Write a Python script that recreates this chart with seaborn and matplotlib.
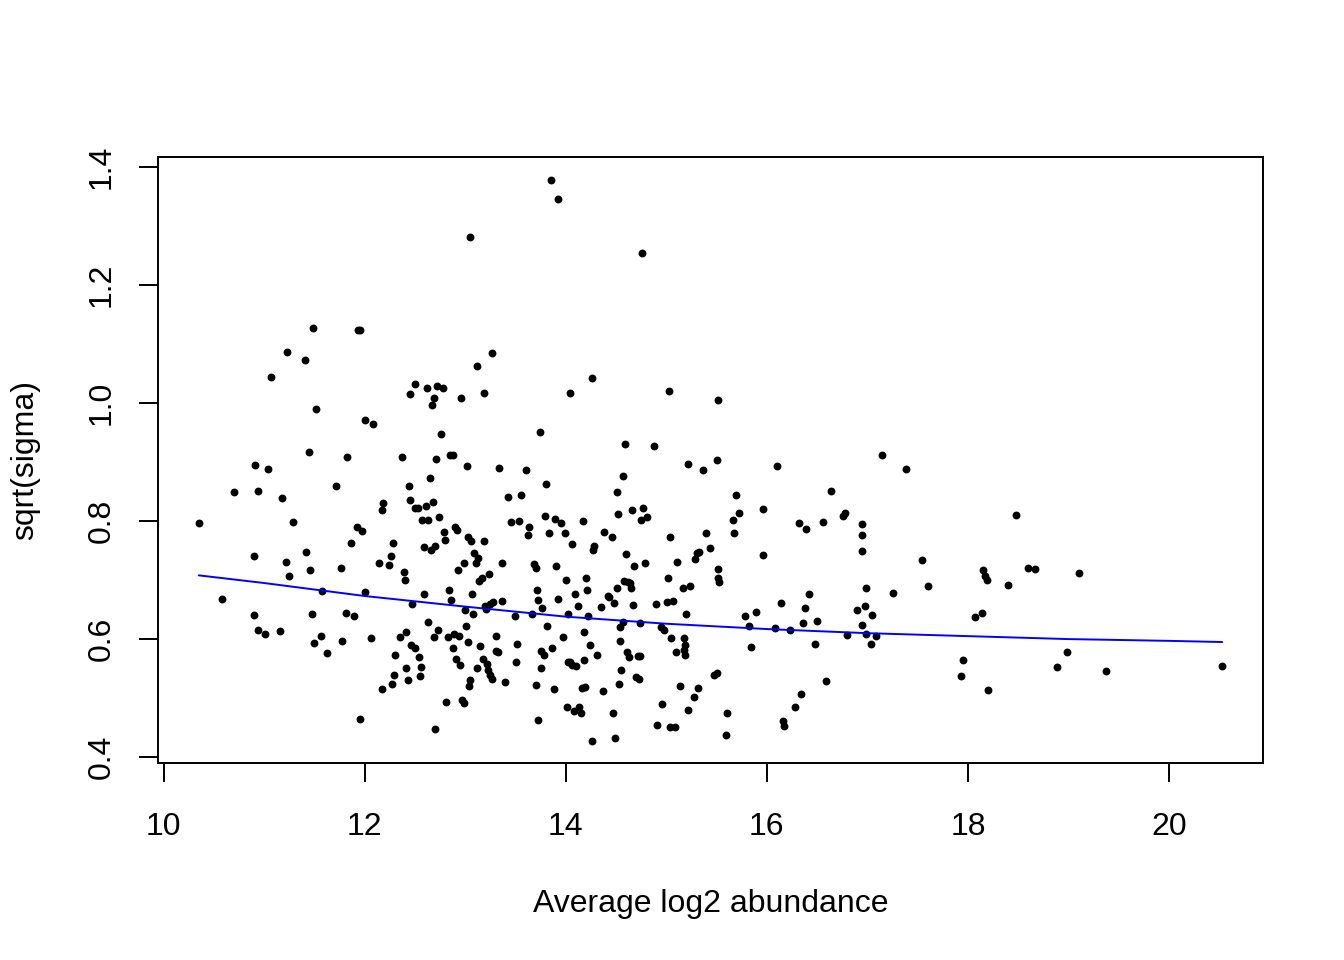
import seaborn as sns
import pandas as pd
import matplotlib.pyplot as plt

# Values
avg_log2 = [
    10.35, 10.58, 10.70, 10.90, 10.91, 10.94, 10.90, 10.94, 11.01, 11.04,
    11.07, 11.16, 11.18, 11.22, 11.25, 11.23, 11.29, 11.41, 11.42, 11.46,
    11.45, 11.49, 11.48, 11.50, 11.52, 11.57, 11.58, 11.63, 11.71, 11.76,
    11.77, 11.81, 11.82, 11.86, 11.89, 11.92, 11.93, 11.95, 11.95, 11.97,
    12.00, 12.00, 12.06, 12.08, 12.14, 12.17, 12.17, 12.18, 12.24, 12.26,
    12.27, 12.28, 12.29, 12.30, 12.35, 12.37, 12.39, 12.40, 12.41, 12.41,
    12.43, 12.44, 12.45, 12.45, 12.46, 12.47, 12.50, 12.50, 12.50, 12.53,
    12.54, 12.55, 12.56, 12.57, 12.59, 12.59, 12.61, 12.62, 12.63, 12.63,
    12.65, 12.66, 12.67, 12.68, 12.69, 12.69, 12.70, 12.70, 12.71, 12.72,
    12.73, 12.74, 12.76, 12.78, 12.79, 12.80, 12.81, 12.83, 12.84, 12.85,
    12.86, 12.88, 12.89, 12.88, 12.90, 12.92, 12.91, 12.93, 12.94, 12.95,
    12.96, 12.97, 12.99, 12.99, 13.00, 13.01, 13.02, 13.03, 13.03, 13.04,
    13.05, 13.05, 13.06, 13.07, 13.08, 13.09, 13.11, 13.12, 13.12, 13.13,
    13.14, 13.15, 13.17, 13.18, 13.19, 13.19, 13.20, 13.21, 13.22, 13.23,
    13.24, 13.25, 13.25, 13.27, 13.27, 13.28, 13.31, 13.31, 13.33, 13.34,
    13.37, 13.37, 13.40, 13.43, 13.46, 13.50, 13.51, 13.52, 13.54, 13.56,
    13.60, 13.62, 13.63, 13.66, 13.68, 13.70, 13.70, 13.71, 13.72, 13.72,
    13.74, 13.75, 13.75, 13.76, 13.78, 13.79, 13.80, 13.81, 13.83, 13.85,
    13.86, 13.88, 13.89, 13.90, 13.92, 13.92, 13.95, 13.97, 13.99, 14.00,
    14.01, 14.02, 14.02, 14.04, 14.04, 14.06, 14.06, 14.08, 14.09, 14.10,
    14.12, 14.13, 14.15, 14.16, 14.17, 14.18, 14.18, 14.19, 14.20, 14.21,
    14.22, 14.24, 14.26, 14.27, 14.28, 14.26, 14.31, 14.35, 14.37, 14.38,
    14.42, 14.43, 14.46, 14.47, 14.48, 14.49, 14.51, 14.51, 14.52, 14.53,
    14.54, 14.54, 14.55, 14.57, 14.57, 14.58, 14.59, 14.60, 14.61, 14.62,
    14.63, 14.64, 14.65, 14.66, 14.67, 14.68, 14.70, 14.72, 14.73, 14.74,
    14.74, 14.75, 14.76, 14.77, 14.79, 14.81, 14.88, 14.90, 14.91, 14.95,
    14.96, 14.98, 15.01, 15.02, 15.03, 15.04, 15.04, 15.05, 15.07, 15.09,
    15.10, 15.11, 15.14, 15.17, 15.18, 15.18, 15.19, 15.19, 15.20, 15.22,
    15.22, 15.24, 15.28, 15.29, 15.31, 15.32, 15.33, 15.37, 15.40, 15.43,
    15.47, 15.50, 15.50, 15.51, 15.51, 15.51, 15.52, 15.59, 15.60, 15.66,
    15.67, 15.69, 15.72, 15.78, 15.82, 15.84, 15.89, 15.96, 15.96, 16.10,
    16.08, 16.14, 16.16, 16.17, 16.23, 16.28, 16.32, 16.34, 16.36, 16.38,
    16.39, 16.42, 16.48, 16.50, 16.56, 16.59, 16.64, 16.76, 16.78, 16.80,
    16.90, 16.95, 16.95, 16.95, 16.95, 16.98, 16.99, 16.99, 17.04, 17.05,
    17.09, 17.15, 17.26, 17.38, 17.54, 17.60, 17.95, 17.93, 18.07, 18.14,
    18.15, 18.17, 18.19, 18.20, 18.40, 18.48, 18.60, 18.67, 18.89, 18.99,
    19.11, 19.37, 20.53,
]
sqrt_sigma = [
    0.797, 0.668, 0.849, 0.741, 0.895, 0.851, 0.641, 0.615, 0.608, 0.888,
    1.044, 0.614, 0.839, 0.731, 0.707, 1.086, 0.798, 1.073, 0.747, 0.717,
    0.917, 1.127, 0.642, 0.593, 0.990, 0.605, 0.681, 0.576, 0.859, 0.720,
    0.597, 0.644, 0.908, 0.763, 0.639, 0.790, 1.124, 1.124, 0.464, 0.783,
    0.680, 0.971, 0.602, 0.964, 0.729, 0.515, 0.819, 0.831, 0.725, 0.741,
    0.524, 0.763, 0.539, 0.573, 0.603, 0.908, 0.714, 0.700, 0.612, 0.551,
    0.530, 0.859, 1.015, 0.836, 0.590, 0.659, 1.032, 0.822, 0.585, 0.822,
    0.569, 0.537, 0.553, 0.802, 0.756, 0.676, 0.825, 1.025, 0.802, 0.629,
    0.873, 0.751, 0.997, 0.832, 1.009, 0.603, 0.758, 0.447, 0.905, 1.029,
    0.615, 0.807, 0.947, 1.025, 0.781, 0.768, 0.493, 0.603, 0.683, 0.912,
    0.666, 0.912, 0.608, 0.585, 0.790, 0.785, 0.566, 0.717, 0.605, 0.556,
    1.009, 0.497, 0.492, 0.729, 0.649, 0.622, 0.893, 0.773, 0.595, 0.520,
    0.530, 1.281, 0.766, 0.676, 0.642, 0.746, 0.729, 1.063, 0.551, 0.737,
    0.698, 0.588, 0.703, 0.566, 1.017, 0.766, 0.656, 0.651, 0.558, 0.547,
    0.710, 0.539, 0.659, 1.085, 0.532, 0.663, 0.580, 0.605, 0.578, 0.890,
    0.664, 0.729, 0.527, 0.841, 0.798, 0.639, 0.561, 0.592, 0.800, 0.844,
    0.886, 0.776, 0.790, 0.642, 0.727, 0.720, 0.522, 0.683, 0.463, 0.666,
    0.951, 0.580, 0.551, 0.653, 0.573, 0.808, 0.863, 0.622, 0.780, 1.378,
    0.585, 0.515, 0.803, 0.724, 1.346, 0.668, 0.797, 0.603, 0.780, 0.700,
    0.485, 0.642, 0.561, 1.017, 0.561, 0.556, 0.761, 0.478, 0.676, 0.554,
    0.656, 0.485, 0.475, 0.517, 0.800, 0.612, 0.564, 0.519, 0.703, 0.683,
    0.639, 0.590, 0.427, 0.751, 0.758, 1.042, 0.573, 0.654, 0.512, 0.781,
    0.673, 0.671, 0.773, 0.475, 0.661, 0.432, 0.686, 0.849, 0.812, 0.524,
    0.620, 0.597, 0.547, 0.876, 0.629, 0.698, 0.930, 0.744, 0.578, 0.697,
    0.569, 0.695, 0.686, 0.819, 0.658, 0.724, 0.536, 0.571, 0.532, 0.571,
    0.627, 0.802, 1.254, 0.822, 0.729, 0.807, 0.927, 0.659, 0.454, 0.620,
    0.490, 0.615, 0.663, 0.703, 1.020, 0.773, 0.451, 0.602, 0.664, 0.451,
    0.578, 0.731, 0.520, 0.686, 0.602, 0.581, 0.590, 0.573, 0.642, 0.897,
    0.480, 0.690, 0.502, 0.736, 0.746, 0.517, 0.747, 0.886, 0.780, 0.754,
    0.539, 0.542, 0.903, 1.005, 0.703, 0.719, 0.697, 0.437, 0.475, 0.802,
    0.780, 0.844, 0.814, 0.639, 0.622, 0.586, 0.646, 0.820, 0.742, 0.893,
    0.619, 0.661, 0.461, 0.453, 0.615, 0.485, 0.797, 0.507, 0.627, 0.653,
    0.786, 0.676, 0.592, 0.631, 0.798, 0.529, 0.851, 0.808, 0.814, 0.607,
    0.649, 0.795, 0.749, 0.776, 0.624, 0.656, 0.686, 0.608, 0.592, 0.641,
    0.605, 0.912, 0.678, 0.888, 0.734, 0.690, 0.564, 0.537, 0.637, 0.644,
    0.717, 0.707, 0.700, 0.514, 0.692, 0.810, 0.720, 0.719, 0.553, 0.578,
    0.712, 0.546, 0.554,
]

# fitted trend (blue line)
trend_x = [10.35, 11, 12, 13, 14, 15, 16, 17, 18, 19, 20, 20.53]
trend_y = [0.708, 0.695, 0.673, 0.655, 0.638, 0.626, 0.617, 0.610, 0.605, 0.600, 0.597, 0.595]

x_ticks = [10, 12, 14, 16, 18, 20]
y_ticks = [0.4, 0.6, 0.8, 1.0, 1.2, 1.4]

df = pd.DataFrame({"avg": avg_log2, "sigma": sqrt_sigma})
trend = pd.DataFrame({"avg": trend_x, "sigma": trend_y})

sns.set_style("ticks")
plt.rcParams['font.family'] = ['Liberation Sans', 'DejaVu Sans']
plt.rcParams['text.color'] = 'black'
plt.rcParams['axes.labelcolor'] = 'black'

fig = plt.figure(figsize=(13.44, 9.6), dpi=100)
ax = fig.add_axes([0.1176, 0.2052, 0.8221, 0.6313])

sns.scatterplot(data=df, x="avg", y="sigma", ax=ax, color="black", s=32, linewidth=0)
sns.lineplot(data=trend, x="avg", y="sigma", ax=ax, color="#0000ff", linewidth=1.4)

ax.set_xlim(9.945, 20.935)
ax.set_ylim(0.39, 1.417)
ax.set_xticks(x_ticks)
ax.set_xticklabels([str(t) for t in x_ticks])
ax.set_yticks(y_ticks)
ax.set_yticklabels([f"{t:.1f}" for t in y_ticks], rotation=90, va="center")
ax.tick_params(axis="both", length=14, width=1.4, color="black", labelsize=23, labelcolor="black")
ax.tick_params(axis="x", pad=21)
ax.tick_params(axis="y", pad=15.5)
for sp in ax.spines.values():
    sp.set_visible(True)
    sp.set_linewidth(1.4)
    sp.set_color("black")

ax.set_xlabel("Average log2 abundance", fontsize=23, labelpad=34)
ax.set_ylabel("sqrt(sigma)", fontsize=23, labelpad=34)

plt.savefig("out.png", dpi=100)
